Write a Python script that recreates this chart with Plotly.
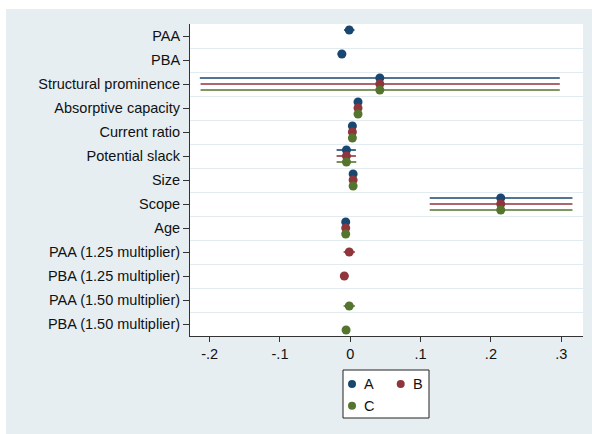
import plotly.graph_objects as go

# ---------------- data ----------------
categories = [
    "PAA", "PBA", "Structural prominence", "Absorptive capacity", "Current ratio",
    "Potential slack", "Size", "Scope", "Age",
    "PAA (1.25 multiplier)", "PBA (1.25 multiplier)",
    "PAA (1.50 multiplier)", "PBA (1.50 multiplier)",
]
series_names = ["A", "B", "C"]

coef_A = [-0.0015, -0.012, 0.042, 0.011, 0.003, -0.0055, 0.004, 0.214, -0.0065, None, None, None, None]
lo_A = [-0.009, -0.018, -0.214, 0.009, 0.001, -0.0195, 0.002, 0.113, -0.0085, None, None, None, None]
hi_A = [0.006, -0.006, 0.298, 0.013, 0.005, 0.008, 0.006, 0.316, -0.0045, None, None, None, None]

coef_B = [None, None, 0.042, 0.011, 0.003, -0.0055, 0.004, 0.214, -0.0065, -0.0015, -0.0085, None, None]
lo_B = [None, None, -0.213, 0.009, 0.001, -0.0195, 0.002, 0.113, -0.0085, -0.0095, -0.0145, None, None]
hi_B = [None, None, 0.298, 0.013, 0.005, 0.008, 0.006, 0.316, -0.0045, 0.0065, -0.0025, None, None]

coef_C = [None, None, 0.042, 0.011, 0.003, -0.0055, 0.004, 0.214, -0.0065, None, None, -0.0015, -0.006]
lo_C = [None, None, -0.213, 0.009, 0.001, -0.0195, 0.002, 0.113, -0.0085, None, None, -0.0095, -0.009]
hi_C = [None, None, 0.298, 0.013, 0.005, 0.0085, 0.006, 0.316, -0.0045, None, None, 0.0065, -0.003]

xtick_vals = [-0.2, -0.1, 0, 0.1, 0.2, 0.3]
xtick_text = ["-.2", "-.1", "0", ".1", ".2", ".3"]

# ---------------- style ----------------
W, H = 592, 434
colors = ["#1a476f", "#90353b", "#55752f"]
offsets = [-0.25, 0.0, 0.25]
BG = "#e6eef1"
GRID = "#e2ebef"
AXIS = "#333333"
FONT = dict(family="Liberation Sans, Arial, sans-serif", size=14.5, color="#111111")

fig = go.Figure()

for name, color, off, coef, lo, hi in zip(
    series_names, colors, offsets,
    [coef_A, coef_B, coef_C], [lo_A, lo_B, lo_C], [hi_A, hi_B, hi_C],
):
    ys = [i + 1 + off for i in range(len(categories))]
    plus = [(h - c) if c is not None else None for c, h in zip(coef, hi)]
    minus = [(c - l) if c is not None else None for c, l in zip(coef, lo)]
    fig.add_trace(go.Scatter(
        x=coef, y=ys, mode="markers", name=name,
        marker=dict(color=color, size=9, line=dict(width=0)),
        error_x=dict(type="data", symmetric=False, array=plus, arrayminus=minus,
                     color=color, thickness=1.6, width=0),
        showlegend=False, xaxis="x", yaxis="y",
    ))

# manual two-column legend (Stata style)
leg_x = [i % 2 for i in range(len(series_names))]
leg_y = [i // 2 for i in range(len(series_names))]
fig.add_trace(go.Scatter(
    x=leg_x, y=leg_y, mode="markers",
    marker=dict(color=colors, size=8, line=dict(width=0)),
    showlegend=False, xaxis="x2", yaxis="y2", hoverinfo="skip",
))
for name, lx, ly in zip(series_names, leg_x, leg_y):
    fig.add_annotation(x=lx, y=ly, xref="x2", yref="y2", text=name,
                       showarrow=False, xanchor="left", yanchor="middle",
                       xshift=10, font=FONT)

shapes = [
    dict(type="rect", xref="paper", yref="paper", x0=0, x1=1, y0=(H - 9) / H, y1=1,
         fillcolor="white", line=dict(width=0), layer="below"),
    dict(type="rect", xref="paper", yref="paper", x0=0, x1=6 / W, y0=0, y1=1,
         fillcolor="white", line=dict(width=0), layer="below"),
    dict(type="rect", xref="x2 domain", yref="y2 domain", x0=0, x1=1, y0=0, y1=1,
         fillcolor="white", line=dict(color="#222222", width=1), layer="below"),
]

fig.update_layout(
    width=W, height=H,
    margin=dict(l=0, r=0, t=0, b=0),
    paper_bgcolor=BG, plot_bgcolor="white",
    font=FONT,
    shapes=shapes,
    xaxis=dict(
        domain=[190 / W, 583 / W], range=[-0.228, 0.331], anchor="y",
        tickvals=xtick_vals, ticktext=xtick_text,
        ticks="outside", ticklen=5, tickcolor=AXIS, tickwidth=1,
        showline=True, linecolor=AXIS, linewidth=1,
        showgrid=False, zeroline=False, tickfont=FONT,
    ),
    yaxis=dict(
        domain=[98 / H, 410 / H], range=[len(categories) + 0.5, 0.5], anchor="x",
        tickvals=list(range(1, len(categories) + 1)), ticktext=categories,
        ticks="outside", ticklen=6, tickcolor=AXIS, tickwidth=1,
        showline=True, linecolor=AXIS, linewidth=1,
        showgrid=False, zeroline=False, tickfont=FONT,
        minor=dict(tickvals=[i + 0.5 for i in range(1, len(categories))],
                   showgrid=True, gridcolor=GRID, gridwidth=1, ticks=""),
    ),
    xaxis2=dict(domain=[343 / W, 429 / W], range=[-0.185, 1.581], anchor="y2",
                visible=False, fixedrange=True),
    yaxis2=dict(domain=[16 / H, 64 / H], range=[1.567, -0.645], anchor="x2",
                visible=False, fixedrange=True),
)

fig.write_html("out.html")
